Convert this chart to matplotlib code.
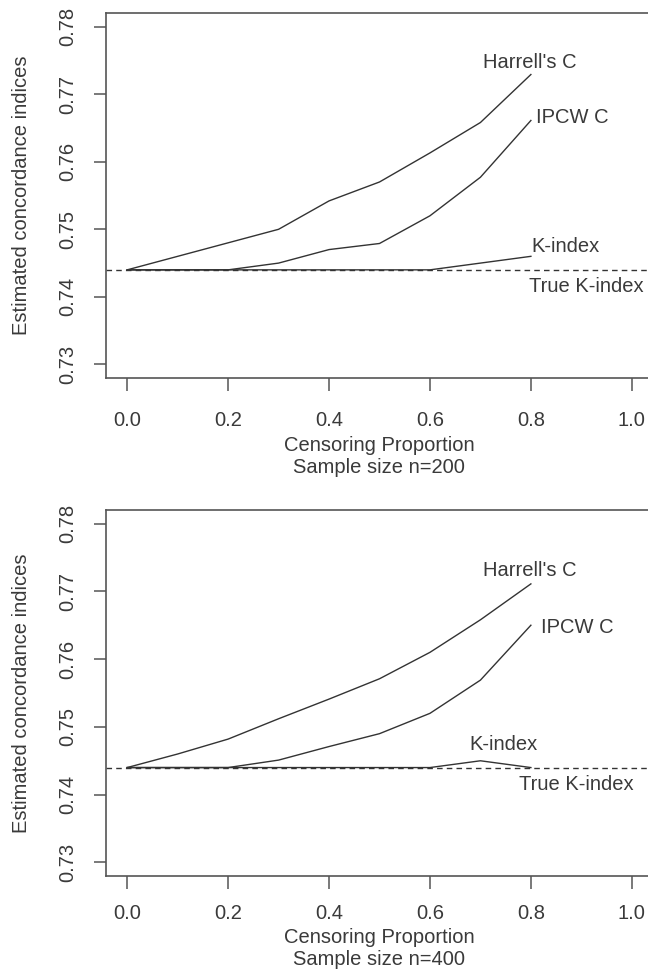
import matplotlib
matplotlib.use('Agg')
import matplotlib.pyplot as plt

plt.rcParams['font.family'] = ['Liberation Sans', 'DejaVu Sans']

# Censoring proportions used in the simulation
censoring = [0.0, 0.1, 0.2, 0.3, 0.4, 0.5, 0.6, 0.7, 0.8]
true_k = 0.744

# Sample size n=200
harrell_200 = [0.744, 0.746, 0.748, 0.750, 0.7542, 0.757, 0.7613, 0.7658, 0.7729]
ipcw_200 = [0.744, 0.744, 0.744, 0.745, 0.747, 0.7479, 0.752, 0.7577, 0.7661]
kindex_200 = [0.744, 0.744, 0.744, 0.744, 0.744, 0.744, 0.744, 0.745, 0.746]

# Sample size n=400
harrell_400 = [0.744, 0.746, 0.7482, 0.7512, 0.7541, 0.7571, 0.761, 0.7658, 0.7711]
ipcw_400 = [0.744, 0.744, 0.744, 0.7451, 0.7471, 0.749, 0.752, 0.7569, 0.765]
kindex_400 = [0.744, 0.744, 0.744, 0.744, 0.744, 0.744, 0.744, 0.745, 0.744]

x_ticks = [0.0, 0.2, 0.4, 0.6, 0.8, 1.0]
y_ticks = [0.73, 0.74, 0.75, 0.76, 0.77, 0.78]

panels = [
    dict(n=200, harrell=harrell_200, ipcw=ipcw_200, kindex=kindex_200,
         labels=[("Harrell's C", 0.798, 0.7747, 'center'),
                 ("IPCW C", 0.81, 0.7665, 'left'),
                 ("K-index", 0.80, 0.7475, 'left'),
                 ("True K-index", 0.796, 0.7415, 'left')],
         rect=[106 / 648, 1 - 378 / 976, 546 / 648, 365 / 976], xpad=15),
    dict(n=400, harrell=harrell_400, ipcw=ipcw_400, kindex=kindex_400,
         labels=[("Harrell's C", 0.798, 0.773, 'center'),
                 ("IPCW C", 0.82, 0.7646, 'left'),
                 ("K-index", 0.746, 0.7474, 'center'),
                 ("True K-index", 0.776, 0.7415, 'left')],
         rect=[106 / 648, 1 - 876 / 976, 546 / 648, 366 / 976], xpad=11),
]

fig = plt.figure(figsize=(6.48, 9.76), dpi=100)
text_col = '#3a3a3a'
line_col = '#333333'
fs = 14.5

for p in panels:
    ax = fig.add_axes(p['rect'])
    ax.axhline(true_k, color=line_col, lw=1.0, dashes=(4, 3))
    ax.plot(censoring, p['kindex'], color=line_col, lw=1.0)
    ax.plot(censoring, p['ipcw'], color=line_col, lw=1.0)
    ax.plot(censoring, p['harrell'], color=line_col, lw=1.0)

    for txt, tx, ty, ha in p['labels']:
        ax.text(tx, ty, txt, ha=ha, va='center', fontsize=fs, color=text_col)

    ax.set_xlim(-0.042, 1.04)
    ax.set_ylim(0.728, 0.782)
    ax.set_xticks(x_ticks)
    ax.set_xticklabels([f'{v:.1f}' for v in x_ticks])
    ax.set_yticks(y_ticks)
    ax.set_yticklabels([f'{v:.2f}' for v in y_ticks], rotation=90, va='center')

    for s in ax.spines.values():
        s.set_color('#555555')
        s.set_linewidth(1.2)
    ax.tick_params(axis='both', colors='#555555', labelcolor=text_col,
                   labelsize=fs, length=9, width=1.1)
    ax.tick_params(axis='y', pad=12)
    ax.tick_params(axis='x', pad=p['xpad'])

    ax.set_xlabel(f'Censoring Proportion\nSample size n={p["n"]}',
                  fontsize=fs, color=text_col, labelpad=4, linespacing=1.2)
    ax.set_ylabel('Estimated concordance indices', fontsize=fs,
                  color=text_col, labelpad=19)

fig.savefig('out.png', dpi=100)
